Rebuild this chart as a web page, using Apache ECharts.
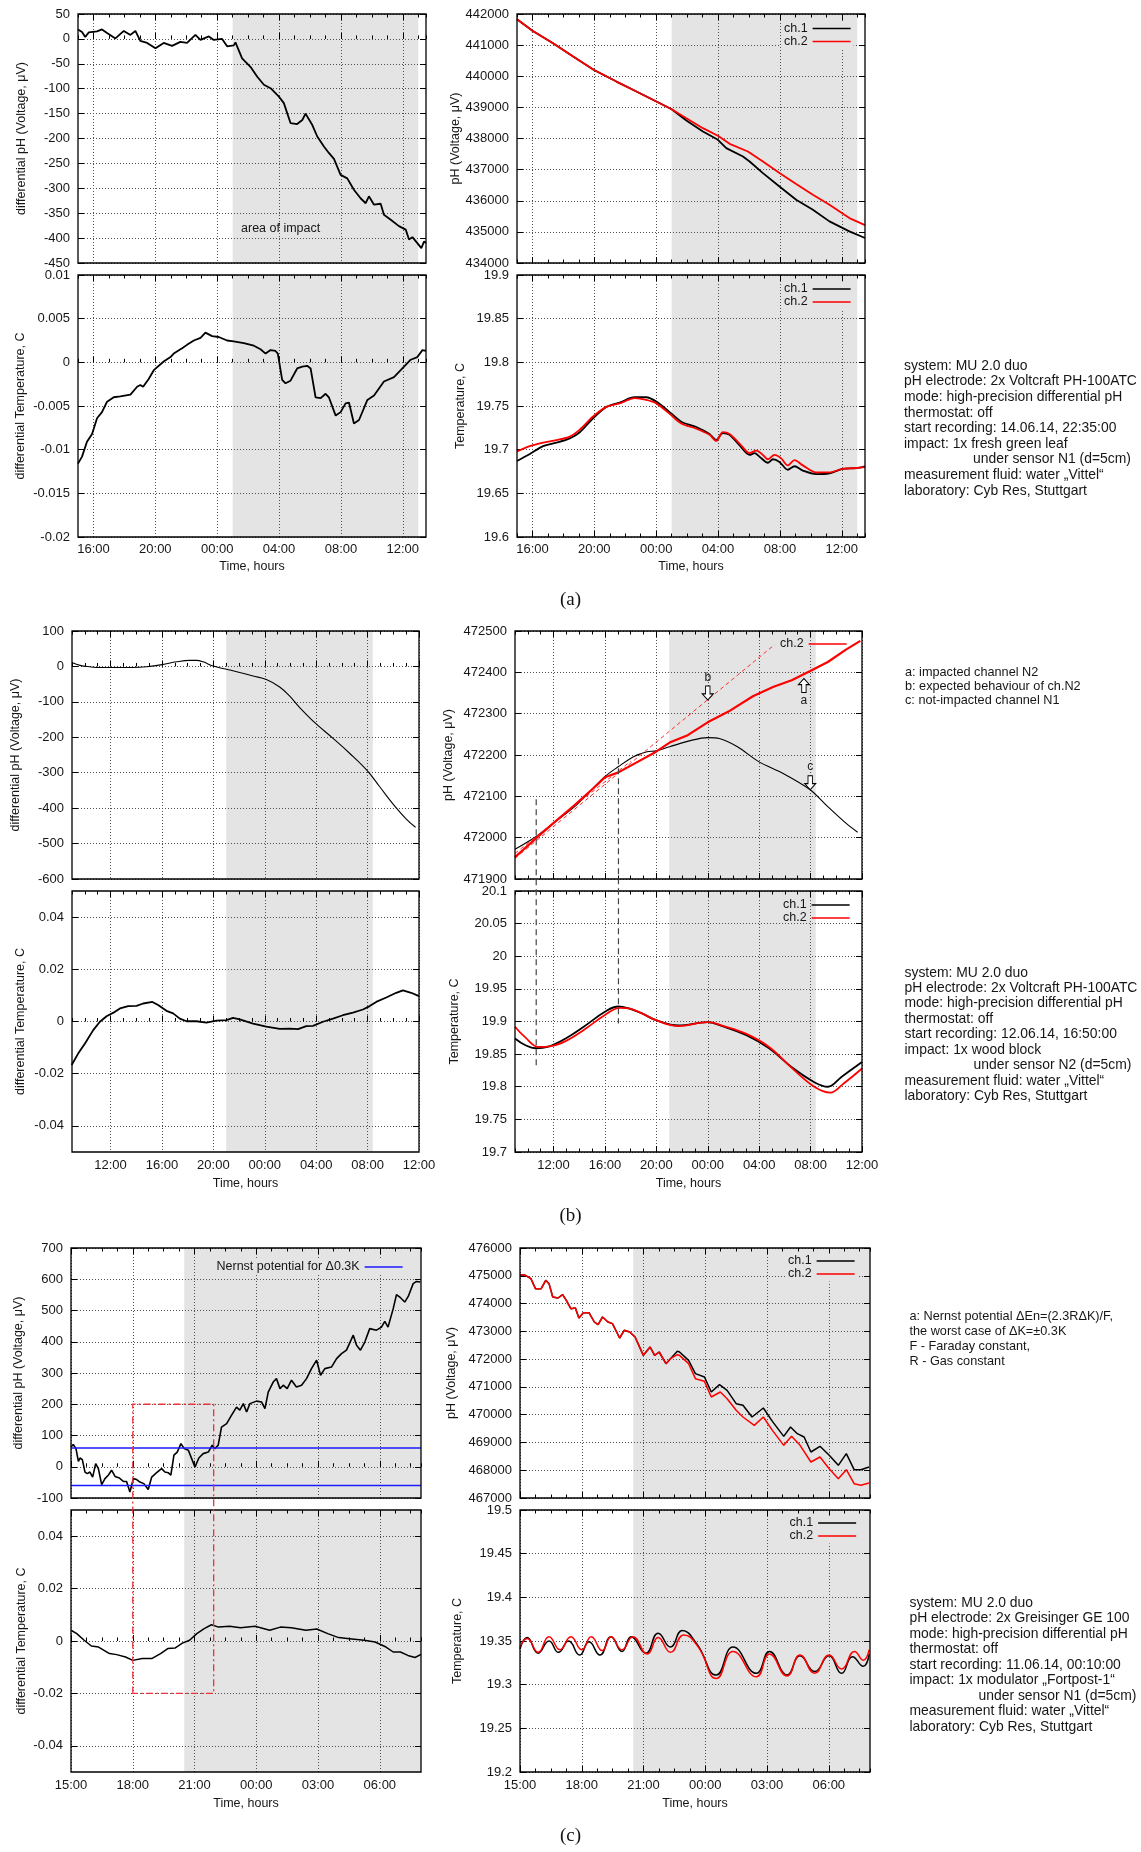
<!DOCTYPE html>
<html>
<head>
<meta charset="utf-8">
<script src="https://cdn.jsdelivr.net/npm/echarts@6/dist/echarts.min.js"></script>
<style>
html,body{margin:0;padding:0;background:#fff}
#chart{width:1141px;height:1852px}
</style>
</head>
<body>
<div id="chart"></div>
<script>
// ---------- (a) fresh green leaf under sensor N1 ----------
const aDiffPh = [[15.00,19],[15.26,14],[15.47,4],[15.69,13],[16.23,15],[16.55,19],[16.88,12],[17.42,1],[17.96,16],[18.39,8],[18.71,16],[19.03,-4],[19.47,-8],[20.01,-19],[20.54,-8],[21.08,-14],[21.62,-6],[22.05,-8],[22.59,8],[22.92,-2],[23.46,5],[23.78,-2],[24.32,0],[24.64,-15],[25.07,-13],[25.18,-7],[25.61,-39],[26.15,-56],[26.59,-76],[27.02,-92],[27.45,-99],[27.99,-116],[28.31,-129],[28.74,-169],[29.17,-171],[29.50,-163],[29.71,-150],[30.15,-173],[30.47,-196],[30.90,-216],[31.22,-229],[31.55,-241],[31.98,-273],[32.41,-280],[32.84,-303],[33.27,-320],[33.60,-330],[33.81,-316],[34.14,-333],[34.57,-331],[34.78,-353],[35.22,-363],[35.75,-376],[36.19,-383],[36.40,-403],[36.62,-398],[36.94,-410],[37.20,-420],[37.37,-407],[37.50,-410]];
const aDiffTemp = [[15.00,-0.0116],[15.26,-0.0108],[15.58,-0.0091],[15.91,-0.0082],[16.23,-0.0064],[16.55,-0.0057],[16.88,-0.0045],[17.31,-0.0040],[17.74,-0.0039],[18.39,-0.0037],[18.82,-0.0028],[19.03,-0.0026],[19.21,-0.0028],[19.57,-0.0019],[19.90,-0.0009],[20.54,0.0001],[20.98,0.0006],[21.19,0.0010],[21.73,0.0016],[22.05,0.0020],[22.49,0.0025],[22.92,0.0028],[23.24,0.0034],[23.67,0.0030],[24.10,0.0029],[24.64,0.0025],[25.07,0.0024],[25.72,0.0022],[26.37,0.0019],[26.80,0.0015],[27.13,0.0010],[27.45,0.0014],[27.77,0.0013],[27.92,0.0010],[28.20,-0.0020],[28.42,-0.0024],[28.74,-0.0021],[29.17,-0.0007],[29.50,-0.0005],[29.82,-0.0004],[30.04,-0.0007],[30.36,-0.0040],[30.69,-0.0041],[31.01,-0.0036],[31.22,-0.0040],[31.66,-0.0061],[31.98,-0.0057],[32.30,-0.0047],[32.52,-0.0046],[32.84,-0.0070],[33.17,-0.0066],[33.71,-0.0043],[34.14,-0.0038],[34.78,-0.0022],[35.43,-0.0017],[36.08,-0.0005],[36.51,0.0003],[36.94,0.0006],[37.27,0.0014],[37.50,0.0013]];
const aPhCh1 = [[15.0,441829],[16.0,441465],[17.33,441059],[18.63,440631],[19.98,440203],[21.43,439829],[22.72,439508],[24.01,439187],[25.0,438941],[25.95,438578],[27.02,438225],[27.99,437957],[28.53,437690],[29.61,437422],[30.04,437262],[30.90,436888],[31.97,436460],[33.05,436032],[34.13,435711],[35.20,435337],[36.49,435016],[37.5,434802]];
const aPhCh2 = [[15.0,441829],[16.0,441465],[17.33,441059],[18.63,440631],[19.98,440203],[21.43,439829],[22.72,439508],[24.01,439187],[25.0,438941],[25.95,438652],[27.02,438332],[27.99,438086],[28.75,437829],[29.93,437583],[30.90,437262],[31.97,436888],[33.05,436535],[34.13,436193],[35.20,435872],[36.49,435444],[37.5,435219]];
const aTempCh1 = [[15.0,19.687],[15.83,19.695],[16.69,19.704],[17.55,19.708],[18.41,19.713],[19.06,19.720],[19.92,19.736],[20.78,19.749],[21.64,19.754],[22.61,19.760],[23.36,19.760],[24.01,19.755],[24.87,19.743],[25.62,19.732],[26.59,19.726],[27.45,19.718],[27.88,19.711],[28.31,19.719],[28.74,19.717],[29.39,19.705],[30.04,19.694],[30.36,19.696],[30.68,19.692],[31.22,19.685],[31.54,19.689],[31.97,19.686],[32.51,19.677],[32.94,19.681],[33.48,19.676],[34.34,19.672],[35.20,19.673],[36.06,19.678],[36.93,19.679],[37.5,19.681]];
const aTempCh2 = [[15.0,19.698],[15.83,19.704],[16.69,19.708],[17.55,19.711],[18.41,19.715],[19.06,19.723],[19.92,19.738],[20.78,19.749],[21.64,19.753],[22.61,19.759],[23.36,19.757],[24.01,19.753],[24.87,19.741],[25.62,19.730],[26.59,19.724],[27.45,19.717],[27.88,19.710],[28.31,19.720],[28.74,19.718],[29.39,19.707],[30.04,19.696],[30.47,19.699],[30.90,19.694],[31.22,19.689],[31.65,19.694],[32.08,19.690],[32.51,19.682],[32.94,19.688],[33.48,19.682],[34.34,19.674],[35.20,19.674],[36.06,19.678],[36.93,19.679],[37.5,19.680]];

// ---------- (b) wood block under sensor N2 ----------
const bDiffPh = [[9.0,11],[9.62,3],[10.39,-1],[11.17,-3],[12.47,-3],[13.76,-3],[14.80,-1],[16.02,5],[17.13,13],[18.17,17],[18.68,17],[19.20,13],[19.98,1],[21.02,-8],[22.05,-17],[23.09,-27],[24.12,-37],[25.16,-58],[25.94,-84],[26.72,-116],[27.96,-161],[29.31,-203],[30.60,-245],[31.97,-294],[32.93,-339],[33.97,-388],[35.01,-431],[35.73,-454]];
const bDiffTemp = [[8.97,-0.0167],[9.49,-0.0122],[10.01,-0.0084],[10.65,-0.0033],[11.17,-0.0001],[11.69,0.0020],[12.34,0.0037],[12.73,0.0050],[13.37,0.0059],[14.02,0.0060],[14.54,0.0069],[15.26,0.0075],[15.70,0.0063],[16.35,0.0041],[16.87,0.0031],[17.39,0.0011],[17.91,0.0001],[18.68,0.0001],[19.46,-0.0004],[20.24,0.0003],[21.02,0.0005],[21.53,0.0014],[22.05,0.0008],[23.09,-0.0008],[24.12,-0.0020],[25.16,-0.0028],[25.94,-0.0027],[26.59,-0.0029],[27.23,-0.0018],[27.75,-0.0017],[28.53,-0.0001],[29.31,0.0011],[30.08,0.0024],[30.86,0.0034],[31.64,0.0046],[32.16,0.0059],[32.67,0.0075],[33.45,0.0092],[34.23,0.0110],[34.75,0.0119],[35.39,0.0110],[36.0,0.0097]];
const bPhCh1 = [[9.0,471972],[10.65,472003],[11.99,472035],[13.64,472075],[16.0,472148],[17.05,472172],[18.22,472196],[19.27,472208],[19.98,472210],[21.03,472220],[22.79,472236],[23.99,472242],[24.90,472240],[26.31,472220],[27.96,472184],[29.83,472156],[31.97,472116],[33.34,472075],[34.75,472035],[35.66,472013]];
const bPhCh2 = [[9.0,471953],[10.65,471999],[11.99,472035],[13.64,472079],[15.40,472128],[16.0,472146],[17.05,472158],[18.22,472178],[19.98,472208],[21.03,472230],[22.44,472248],[23.99,472279],[25.61,472305],[27.51,472342],[29.12,472365],[30.53,472381],[31.97,472403],[33.34,472425],[34.75,472455],[35.87,472476]];
const bExpectedUpper = [[9.0,471950],[29.2,472467]];
const bExpectedLower = [[9.0,471962],[18.0,472185]];
const bTempCh1 = [[9.0,19.874],[9.78,19.864],[10.65,19.859],[11.53,19.861],[12.94,19.874],[14.35,19.892],[16.0,19.915],[17.05,19.923],[17.86,19.920],[18.92,19.912],[19.98,19.902],[21.73,19.894],[23.99,19.899],[25.25,19.892],[27.01,19.879],[28.77,19.859],[30.53,19.830],[32.29,19.807],[33.34,19.800],[34.40,19.815],[36.0,19.838]];
const bTempCh2 = [[9.0,19.892],[9.78,19.876],[10.83,19.861],[11.71,19.862],[12.94,19.870],[14.35,19.887],[16.0,19.910],[17.16,19.921],[17.86,19.920],[18.92,19.912],[19.98,19.902],[21.73,19.893],[23.99,19.899],[25.25,19.893],[27.01,19.881],[28.77,19.861],[30.53,19.829],[32.29,19.800],[33.52,19.791],[34.57,19.805],[36.0,19.828]];
// guide markers: [hour, value in pH panel, value in temperature panel]
const bGuides = [[10.65,472093,19.833],[17.05,472192,19.897]];

// ---------- (c) modulator under sensor N1 ----------
const cDiffPh = [[15.00,63],[15.11,71],[15.24,58],[15.36,17],[15.44,28],[15.55,23],[15.68,-17],[15.79,-22],[15.92,-17],[16.05,-33],[16.20,10],[16.33,-6],[16.49,-57],[16.65,-38],[16.81,-27],[16.97,-11],[17.14,-31],[17.35,-36],[17.54,-47],[17.70,-47],[17.86,-81],[18.03,-38],[18.19,-41],[18.35,-49],[18.54,-54],[18.75,-73],[18.92,-33],[19.16,-19],[19.40,-6],[19.56,-17],[19.72,-19],[19.85,-27],[20.00,37],[20.16,47],[20.34,74],[20.50,58],[20.70,53],[20.86,26],[21.02,-1],[21.21,28],[21.42,42],[21.67,47],[21.86,69],[21.99,58],[22.15,69],[22.31,127],[22.56,138],[22.80,165],[23.04,191],[23.20,181],[23.37,202],[23.53,175],[23.69,202],[24.01,210],[24.26,207],[24.42,186],[24.58,239],[24.82,271],[24.98,282],[25.15,250],[25.31,261],[25.50,250],[25.71,277],[25.95,255],[26.20,261],[26.44,282],[26.68,314],[26.93,341],[27.12,293],[27.33,314],[27.65,319],[27.90,346],[28.14,362],[28.38,373],[28.71,421],[28.87,389],[29.06,373],[29.27,399],[29.51,442],[29.84,437],[30.08,447],[30.24,465],[30.40,447],[30.65,506],[30.81,551],[30.97,543],[31.21,527],[31.38,545],[31.62,586],[31.78,593],[31.97,591]];
const cNernst = 60;
const cDiffTemp = [[15.00,0.0041],[15.28,0.0028],[15.64,0.0003],[15.99,-0.0019],[16.34,-0.0023],[16.87,-0.0048],[17.22,-0.0052],[17.65,-0.0061],[18.00,-0.0074],[18.46,-0.0067],[18.92,-0.0067],[19.35,-0.0048],[19.70,-0.0029],[20.05,-0.0027],[20.41,-0.0008],[20.76,0.0003],[21.11,0.0028],[21.47,0.0047],[21.82,0.0062],[22.17,0.0053],[22.70,0.0056],[23.23,0.0051],[23.94,0.0056],[24.65,0.0041],[25.17,0.0053],[25.70,0.0051],[26.41,0.0041],[26.94,0.0046],[27.47,0.0028],[28.00,0.0013],[28.53,0.0009],[29.24,0.0003],[29.77,-0.0004],[30.30,-0.0023],[30.65,-0.0042],[31.00,-0.0042],[31.36,-0.0055],[31.71,-0.0063],[32.0,-0.0051]];
const cPhCh1 = [[15.00,475040],[15.26,475016],[15.53,474896],[15.75,474536],[16.03,474536],[16.25,474836],[16.41,474716],[16.59,474236],[16.85,474200],[17.07,474320],[17.25,474116],[17.47,473816],[17.69,473840],[17.86,473480],[18.08,473672],[18.35,473672],[18.61,473336],[18.79,473240],[19.01,473516],[19.27,473336],[19.49,473276],[19.84,472760],[20.06,473036],[20.33,472976],[20.59,472796],[20.99,472136],[21.32,472436],[21.54,472136],[21.76,472256],[22.09,471836],[22.31,472016],[22.64,472280],[22.75,472256],[23.19,471956],[23.52,471476],[23.96,471356],[24.29,470816],[24.69,471080],[25.06,470876],[25.50,470396],[25.83,470336],[26.27,469916],[26.82,470240],[27.26,469760],[27.81,469220],[28.14,469556],[28.47,469316],[28.80,469196],[29.13,468656],[29.57,468860],[30.02,468536],[30.46,468176],[30.85,468596],[31.23,468020],[31.56,468020],[31.95,468116]];
const cPhCh2 = [[15.00,475040],[15.26,475016],[15.53,474896],[15.75,474536],[16.03,474536],[16.25,474836],[16.41,474716],[16.59,474236],[16.85,474200],[17.07,474320],[17.25,474116],[17.47,473816],[17.69,473840],[17.86,473480],[18.08,473672],[18.35,473672],[18.61,473336],[18.79,473240],[19.01,473516],[19.27,473336],[19.49,473276],[19.84,472760],[20.06,473036],[20.33,472976],[20.59,472796],[20.99,472136],[21.32,472436],[21.54,472136],[21.76,472256],[22.09,471836],[22.31,472016],[22.64,472160],[22.75,472136],[23.19,471836],[23.52,471296],[23.96,471200],[24.29,470636],[24.73,470816],[25.06,470576],[25.50,470156],[25.83,469916],[26.38,469616],[26.82,469916],[27.26,469436],[27.81,468896],[28.19,469220],[28.58,468920],[29.13,468296],[29.57,468476],[30.02,468056],[30.46,467696],[30.85,468020],[31.23,467516],[31.56,467456],[31.95,467540]];
const cTempCh1 = [[15.00,19.341],[15.35,19.354],[15.88,19.336],[16.41,19.350],[16.87,19.337],[17.36,19.350],[17.90,19.334],[18.35,19.349],[18.88,19.334],[19.42,19.355],[19.95,19.338],[20.40,19.355],[21.11,19.336],[21.71,19.359],[22.31,19.343],[22.88,19.362],[23.58,19.347],[24.54,19.311],[25.35,19.343],[26.48,19.313],[27.12,19.338],[27.97,19.311],[28.60,19.333],[29.31,19.315],[30.01,19.333],[30.62,19.313],[31.15,19.332],[31.67,19.321],[31.96,19.335]];
const cTempCh2 = [[15.00,19.343],[15.35,19.353],[15.88,19.337],[16.41,19.355],[16.94,19.340],[17.47,19.355],[18.00,19.340],[18.46,19.355],[18.99,19.339],[19.42,19.355],[19.95,19.340],[20.48,19.355],[21.18,19.335],[21.71,19.354],[22.31,19.337],[22.95,19.357],[23.66,19.343],[24.54,19.307],[25.35,19.338],[26.48,19.309],[27.12,19.335],[27.97,19.310],[28.60,19.334],[29.31,19.313],[30.01,19.334],[30.62,19.318],[31.25,19.338],[31.67,19.328],[31.96,19.340]];
// window marked across both differential panels: [from hour, to hour, pH level, temperature level]
const cWindow = [18.0, 21.93, 200, -0.02];

// ---------- tick positions ----------
const aMajorHours = [16, 20, 24, 28, 32, 36];
const bMajorHours = [12, 16, 20, 24, 28, 32, 36];
const cMajorHours = [15, 18, 21, 24, 27, 30];
const diffTempTicks = [-0.04, -0.02, 0, 0.02, 0.04];

// ---------- text blocks ----------
const infoA = ['system: MU 2.0 duo','pH electrode: 2x Voltcraft PH-100ATC','mode: high-precision differential pH','thermostat: off','start recording: 14.06.14, 22:35:00','impact: 1x fresh green leaf','>under sensor N1 (d=5cm)','measurement fluid: water \u201eVittel\u201c','laboratory: Cyb Res, Stuttgart'];
const infoB = ['system: MU 2.0 duo','pH electrode: 2x Voltcraft PH-100ATC','mode: high-precision differential pH','thermostat: off','start recording: 12.06.14, 16:50:00','impact: 1x wood block','>under sensor N2 (d=5cm)','measurement fluid: water \u201eVittel\u201c','laboratory: Cyb Res, Stuttgart'];
const infoC = ['system: MU 2.0 duo','pH electrode: 2x Greisinger GE 100','mode: high-precision differential pH','thermostat: off','start recording: 11.06.14, 00:10:00','impact: 1x modulator \u201eFortpost-1\u201c','>under sensor N1 (d=5cm)','measurement fluid: water \u201eVittel\u201c','laboratory: Cyb Res, Stuttgart'];
const notesB = ['a: impacted channel N2','b: expected behaviour of ch.N2','c: not-impacted channel N1'];
const notesC = ['a: Nernst potential \u0394En=(2.3R\u0394K)/F,','the worst case of \u0394K=\u00b10.3K','F - Faraday constant,','R - Gas constant'];

// ---------- styling and builders ----------
const FONT = '"Liberation Sans", Arial, Helvetica, sans-serif';
const SERIF = '"Liberation Serif", "DejaVu Serif", serif';
const TEXT = '#161616';
const SHADE = '#e4e4e4';
const RED = '#ff0000';
const GRIDLINE = {color: '#505050', width: 1, type: [1, 2]};
const TICK = {color: '#000', width: 1};

const option = {
  animation: false,
  backgroundColor: '#fff',
  grid: [], xAxis: [], yAxis: [], series: [], legend: [], graphic: []
};

function hourText(v) {
  const h = ((Math.round(v) % 24) + 24) % 24;
  return (h < 10 ? '0' : '') + h + ':00';
}
// plain numbers, no digit grouping
function plainNumber(v) {
  return String(+(+v).toFixed(6));
}

function panel(c) {
  const g = option.grid.length;
  option.grid.push({left: c.box[0], top: c.box[1], width: c.box[2], height: c.box[3],
    show: true, borderColor: '#000', borderWidth: 1.3, backgroundColor: 'rgba(0,0,0,0)', z: 3});
  const xi = option.xAxis.length;
  const xBase = {gridIndex: g, type: 'value', min: c.x[0], max: c.x[1], interval: c.minor, z: 1.5,
    axisLine: {show: false}, axisLabel: {show: false}, splitLine: {show: false}};
  option.xAxis.push(Object.assign({}, xBase, {
    position: 'bottom',
    axisTick: {show: true, inside: true, length: 6, lineStyle: TICK, customValues: c.major},
    axisLabel: {show: !!c.xName, customValues: c.major, formatter: hourText, margin: c.xLabelMargin || 6,
      fontSize: 13, fontFamily: FONT, color: TEXT, showMinLabel: true, showMaxLabel: true},
    splitLine: {show: true, lineStyle: GRIDLINE},
    name: c.xName || '', nameLocation: 'middle', nameGap: c.xNameGap || 24,
    nameTextStyle: {fontSize: 12.5, fontFamily: FONT, color: TEXT}
  }));
  option.xAxis.push(Object.assign({}, xBase, {position: 'bottom',
    axisTick: {show: true, inside: true, length: 3.5, lineStyle: TICK}}));
  option.xAxis.push(Object.assign({}, xBase, {position: 'top',
    axisTick: {show: true, inside: true, length: 6, lineStyle: TICK, customValues: c.major}}));
  option.xAxis.push(Object.assign({}, xBase, {position: 'top',
    axisTick: {show: true, inside: true, length: 3.5, lineStyle: TICK}}));
  const yi = option.yAxis.length;
  const yBase = {gridIndex: g, type: 'value', min: c.y[0], max: c.y[1], interval: c.yStep, z: 1.5,
    axisLine: {show: false}};
  const yTick = {show: true, inside: true, length: 6, lineStyle: TICK};
  const yLabel = {show: true, margin: 8, fontSize: 13, fontFamily: FONT, color: TEXT,
    showMinLabel: true, showMaxLabel: true, formatter: plainNumber};
  if (c.yMajor) { yTick.customValues = c.yMajor; yLabel.customValues = c.yMajor; }
  option.yAxis.push(Object.assign({}, yBase, {
    position: 'left', axisTick: yTick, axisLabel: yLabel,
    splitLine: {show: true, lineStyle: GRIDLINE},
    name: c.yName, nameLocation: 'middle', nameGap: c.yNameGap,
    nameTextStyle: {fontSize: 12.5, fontFamily: FONT, color: TEXT}
  }));
  option.yAxis.push(Object.assign({}, yBase, {position: 'right', axisTick: yTick,
    axisLabel: {show: false}, splitLine: {show: false}}));
  return {x: xi, y: yi, shade: c.shade};
}

function line(p, name, data, color, width, extra) {
  const s = Object.assign({type: 'line', name: name, data: data, xAxisIndex: p.x, yAxisIndex: p.y,
    showSymbol: false, symbol: 'none', silent: true, z: 2,
    lineStyle: {color: color, width: width}, itemStyle: {color: color}}, extra || {});
  option.series.push(s);
  s.index = option.series.length - 1;
  return s;
}

function shade(p, s) {
  s.markArea = {silent: true, z: 1, itemStyle: {color: SHADE, borderWidth: 0},
    data: [[{xAxis: p.shade[0]}, {xAxis: p.shade[1]}]]};
}

function legend(names, left, top, bg) {
  option.legend.push({data: names, left: left, top: top, orient: 'vertical', align: 'right',
    icon: 'rect', itemWidth: 38, itemHeight: 1.6, itemGap: 0, padding: [1, 3, 1, 3],
    backgroundColor: bg || 'rgba(0,0,0,0)', selectedMode: false, z: 4,
    textStyle: {fontSize: 12.5, fontFamily: FONT, color: TEXT, lineHeight: 12.7}});
}

function textLines(lines, x, y0, step, size) {
  lines.forEach(function (t, i) {
    const indent = t.charAt(0) === '>';
    option.graphic.push({type: 'text', x: x + (indent ? 69 : 0), y: y0 + i * step, z: 10, silent: true,
      style: {text: indent ? t.slice(1) : t, fontSize: size, fontFamily: FONT, fill: TEXT,
        align: 'left', verticalAlign: 'middle'}});
  });
}

function caption(t, y) {
  option.graphic.push({type: 'text', x: 570.5, y: y, z: 10, silent: true,
    style: {text: t, fontSize: 19, fontFamily: SERIF, fill: '#111', align: 'center', verticalAlign: 'middle'}});
}

// ---------- panels ----------
const pAL1 = panel({box: [78, 14, 348, 249], x: [15, 37.5], minor: 1, major: aMajorHours,
  y: [-450, 50], yStep: 50, yName: 'differential pH (Voltage, \u03bcV)', yNameGap: 50, shade: [25, 37]});
const pAL2 = panel({box: [78, 275, 348, 262], x: [15, 37.5], minor: 1, major: aMajorHours,
  y: [-0.02, 0.01], yStep: 0.005, yName: 'differential Temperature, C', yNameGap: 51, shade: [25, 37],
  xName: 'Time, hours', xNameGap: 23.5, xLabelMargin: 5.5});
const pAR1 = panel({box: [517, 14, 348, 249], x: [15, 37.5], minor: 1, major: aMajorHours,
  y: [434000, 442000], yStep: 1000, yName: 'pH (Voltage, \u03bcV)', yNameGap: 51, shade: [25, 37]});
const pAR2 = panel({box: [517, 275, 348, 262], x: [15, 37.5], minor: 1, major: aMajorHours,
  y: [19.6, 19.9], yStep: 0.05, yName: 'Temperature, C', yNameGap: 50, shade: [25, 37],
  xName: 'Time, hours', xNameGap: 23.5, xLabelMargin: 5.5});

const pBL1 = panel({box: [72, 631, 347, 248], x: [9, 36], minor: 1, major: bMajorHours,
  y: [-600, 100], yStep: 100, yName: 'differential pH (Voltage, \u03bcV)', yNameGap: 50, shade: [21, 32.4]});
const pBL2 = panel({box: [72, 891, 347, 261], x: [9, 36], minor: 1, major: bMajorHours,
  y: [-0.05, 0.05], yStep: 0.01, yMajor: diffTempTicks, yName: 'differential Temperature, C', yNameGap: 45,
  shade: [21, 32.4], xName: 'Time, hours', xNameGap: 25, xLabelMargin: 6.8});
const pBR1 = panel({box: [515, 631, 347, 248], x: [9, 36], minor: 1, major: bMajorHours,
  y: [471900, 472500], yStep: 100, yName: 'pH (Voltage, \u03bcV)', yNameGap: 60, shade: [21, 32.4]});
const pBR2 = panel({box: [515, 891, 347, 261], x: [9, 36], minor: 1, major: bMajorHours,
  y: [19.7, 20.1], yStep: 0.05, yName: 'Temperature, C', yNameGap: 54, shade: [21, 32.4],
  xName: 'Time, hours', xNameGap: 25, xLabelMargin: 6.8});

const pCL1 = panel({box: [71, 1248, 350, 250], x: [15, 32], minor: 0.75, major: cMajorHours,
  y: [-100, 700], yStep: 100, yName: 'differential pH (Voltage, \u03bcV)', yNameGap: 46, shade: [20.5, 32]});
const pCL2 = panel({box: [71, 1510, 350, 262], x: [15, 32], minor: 0.75, major: cMajorHours,
  y: [-0.05, 0.05], yStep: 0.01, yMajor: diffTempTicks, yName: 'differential Temperature, C', yNameGap: 42.5,
  shade: [20.5, 32], xName: 'Time, hours', xNameGap: 25, xLabelMargin: 6.8});
const pCR1 = panel({box: [520, 1248, 350, 250], x: [15, 32], minor: 0.75, major: cMajorHours,
  y: [467000, 476000], yStep: 1000, yName: 'pH (Voltage, \u03bcV)', yNameGap: 62, shade: [20.5, 32]});
const pCR2 = panel({box: [520, 1510, 350, 262], x: [15, 32], minor: 0.75, major: cMajorHours,
  y: [19.2, 19.5], yStep: 0.05, yName: 'Temperature, C', yNameGap: 55.5, shade: [20.5, 32],
  xName: 'Time, hours', xNameGap: 25, xLabelMargin: 6.8});

// ---------- series ----------
const sAL1 = line(pAL1, 'differential pH', aDiffPh, '#000', 1.8);
shade(pAL1, sAL1);
sAL1.markPoint = {silent: true, symbol: 'rect', symbolSize: 1, itemStyle: {color: 'rgba(0,0,0,0)'},
  data: [{coord: [28.1, -380], label: {show: true, position: 'inside', formatter: 'area of impact',
    fontSize: 12.5, fontFamily: FONT, color: TEXT}}]};
const sAL2 = line(pAL2, 'differential temperature', aDiffTemp, '#000', 1.8);
shade(pAL2, sAL2);
const sAR1a = line(pAR1, 'ch.1', aPhCh1, '#000', 1.8);
shade(pAR1, sAR1a);
line(pAR1, 'ch.2', aPhCh2, RED, 1.8);
const sAR2a = line(pAR2, 'ch.1', aTempCh1, '#000', 1.8, {smooth: 0.3});
shade(pAR2, sAR2a);
line(pAR2, 'ch.2', aTempCh2, RED, 1.8, {smooth: 0.3});

const sBL1 = line(pBL1, 'differential pH', bDiffPh, '#000', 1.1, {smooth: 0.4});
shade(pBL1, sBL1);
const sBL2 = line(pBL2, 'differential temperature', bDiffTemp, '#000', 1.8);
shade(pBL2, sBL2);
const sBR1a = line(pBR1, 'ch.1 raw', bPhCh1, '#000', 1.1, {smooth: 0.3});
shade(pBR1, sBR1a);
line(pBR1, 'expected upper', bExpectedUpper, '#ff3030', 1, {lineStyle: {color: '#ff3030', width: 1, type: [4, 3]}});
line(pBR1, 'expected lower', bExpectedLower, '#ff3030', 1, {lineStyle: {color: '#ff3030', width: 1, type: [4, 3]}});
const sBR1b = line(pBR1, 'ch.2', bPhCh2, RED, 2.2);
const ARROW_DOWN = 'path://M3,0 L7,0 L7,9 L10,9 L5,16 L0,9 L3,9 Z';
const ARROW_UP = 'path://M5,0 L10,7 L7,7 L7,16 L3,16 L3,7 L0,7 Z';
const arrowStyle = {color: '#fff', borderColor: '#000', borderWidth: 1};
const arrowLabel = function (t, pos) {
  return {show: true, position: pos, formatter: t, distance: 2, fontSize: 12, fontFamily: FONT, color: TEXT};
};
sBR1b.markPoint = {silent: true, z: 6, data: [
  {coord: [24.0, 472333], symbol: ARROW_DOWN, symbolSize: [11, 14], symbolOffset: [0, -7],
    itemStyle: arrowStyle, label: arrowLabel('b', 'top')},
  {coord: [31.48, 472385], symbol: ARROW_UP, symbolSize: [11, 14], symbolOffset: [0, 7],
    itemStyle: arrowStyle, label: arrowLabel('a', 'bottom')},
  {coord: [31.97, 472116], symbol: ARROW_DOWN, symbolSize: [11, 14], symbolOffset: [0, -7],
    itemStyle: arrowStyle, label: arrowLabel('c', 'top')}
]};
const sBR2a = line(pBR2, 'ch.1', bTempCh1, '#000', 1.8, {smooth: 0.4});
shade(pBR2, sBR2a);
line(pBR2, 'ch.2', bTempCh2, RED, 1.8, {smooth: 0.4});

const sCL1 = line(pCL1, 'differential pH', cDiffPh, '#000', 1.6);
shade(pCL1, sCL1);
line(pCL1, 'Nernst potential for \u03940.3K', [[15, cNernst], [32, cNernst]], '#1a1aff', 1.3);
line(pCL1, 'Nernst potential for \u03940.3K', [[15, -cNernst], [32, -cNernst]], '#1a1aff', 1.3);
const sCL2 = line(pCL2, 'differential temperature', cDiffTemp, '#000', 1.5);
shade(pCL2, sCL2);
const sCR1a = line(pCR1, 'ch.1', cPhCh1, '#000', 1.5);
shade(pCR1, sCR1a);
line(pCR1, 'ch.2', cPhCh2, RED, 1.5);
const sCR2a = line(pCR2, 'ch.1', cTempCh1, '#000', 1.5, {smooth: 0.5});
shade(pCR2, sCR2a);
line(pCR2, 'ch.2', cTempCh2, RED, 1.5, {smooth: 0.5});

// ---------- legends ----------
legend(['ch.1', 'ch.2'], 781, 21, SHADE);
legend(['ch.1', 'ch.2'], 781, 281.5, SHADE);
legend(['ch.2'], 777, 636.5);
legend(['ch.1', 'ch.2'], 780, 897.5);
legend(['ch.1', 'ch.2'], 785, 1253.5, SHADE);
legend(['ch.1', 'ch.2'], 786.5, 1515.5, SHADE);
legend(['Nernst potential for \u03940.3K'], 213.5, 1259.5, SHADE);

// ---------- text ----------
textLines(infoA, 904, 366, 15.6, 13.9);
textLines(notesB, 905, 672.7, 14, 12.7);
textLines(infoB, 904.5, 972.7, 15.45, 13.9);
textLines(notesC, 909.5, 1316.7, 14.8, 12.7);
textLines(infoC, 909.5, 1602.7, 15.5, 13.9);
caption('(a)', 600);
caption('(b)', 1216.5);
caption('(c)', 1836.5);

const chart = echarts.init(document.getElementById('chart'), null, {renderer: 'canvas'});
chart.setOption(option);

// ---------- guides that run across two stacked panels ----------
function px(s, pt) { return chart.convertToPixel({seriesIndex: s.index}, pt); }
const extra = [];
bGuides.forEach(function (g) {
  const top = px(sBR1a, [g[0], g[1]]);
  const bottom = px(sBR2a, [g[0], g[2]]);
  extra.push({type: 'line', z: 10, silent: true,
    shape: {x1: top[0], y1: top[1], x2: bottom[0], y2: bottom[1]},
    style: {stroke: '#444', lineWidth: 1.2, lineDash: [6, 4]}});
});
const w1 = px(sCL2, [cWindow[0], cWindow[3]]);
const w2 = px(sCL1, [cWindow[0], cWindow[2]]);
const w3 = px(sCL1, [cWindow[1], cWindow[2]]);
const w4 = px(sCL2, [cWindow[1], cWindow[3]]);
extra.push({type: 'polygon', z: 10, silent: true,
  shape: {points: [w1, w2, w3, w4]},
  style: {fill: 'none', stroke: '#e8343a', lineWidth: 1.3, lineDash: [7, 3, 2, 3]}});
chart.setOption({graphic: option.graphic.concat(extra)});
</script>
</body>
</html>
